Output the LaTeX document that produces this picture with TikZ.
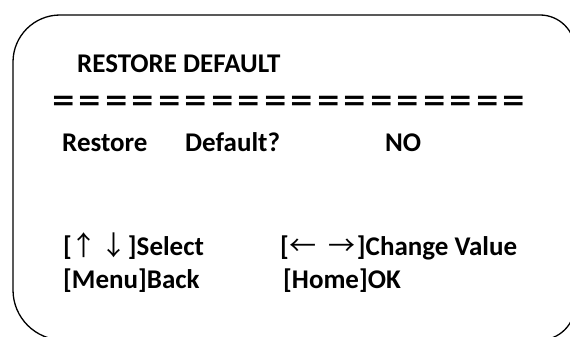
\documentclass[tikz,border=0pt]{standalone}
\usepackage{fontspec}
\setmainfont{Carlito}
\newfontfamily\cjk{Noto Sans CJK SC}
\begin{document}
\begin{tikzpicture}
[x=1pt,y=-1pt,
osdtext/.style={anchor=base west,inner sep=0pt,font=\fontsize{27}{32}\selectfont\bfseries},
ruletext/.style={anchor=base west,inner sep=0pt,font=\fontsize{26.5}{32}\selectfont\cjk\bfseries},
frame/.style={line width=1.3pt}]
       \useasboundingbox (0,0) rectangle (570,337);
       \clip (0,0) rectangle (570,337);
       \draw[frame,rounded corners=47pt] (13,180) |- (300,15)
            [rounded corners=35pt] -| (575,180) |- (300,340)
            [rounded corners=50pt] -| (13,180) -- cycle;
       \node (title) at (77,73) [osdtext] {RESTORE DEFAULT};
       \node (rule) at (50,111) [ruletext] {＝＝＝＝＝＝＝＝＝＝＝＝＝＝＝＝＝＝};
       \node (restore) at (62,151) [osdtext] {Restore};
       \node (default) at (185,151) [osdtext] {Default?};
       \node (value) at (385,151) [osdtext] {NO};
       \node (select) at (63,255) [osdtext]
            {[\hspace{-1.5pt}{\cjk\mdseries ↑}\hspace{3.5pt}{\cjk\mdseries ↓}]Select};
       \node (change) at (280,255) [osdtext]
            {[\hspace{1pt}{\cjk\mdseries ←}\hspace{12pt}{\cjk\mdseries →}\hspace{1pt}]Change Value};
       \node (back) at (63,288) [osdtext] {[Menu]Back};
       \node (ok) at (283,288) [osdtext] {[Home]OK};
    \end{tikzpicture}
\end{document}
